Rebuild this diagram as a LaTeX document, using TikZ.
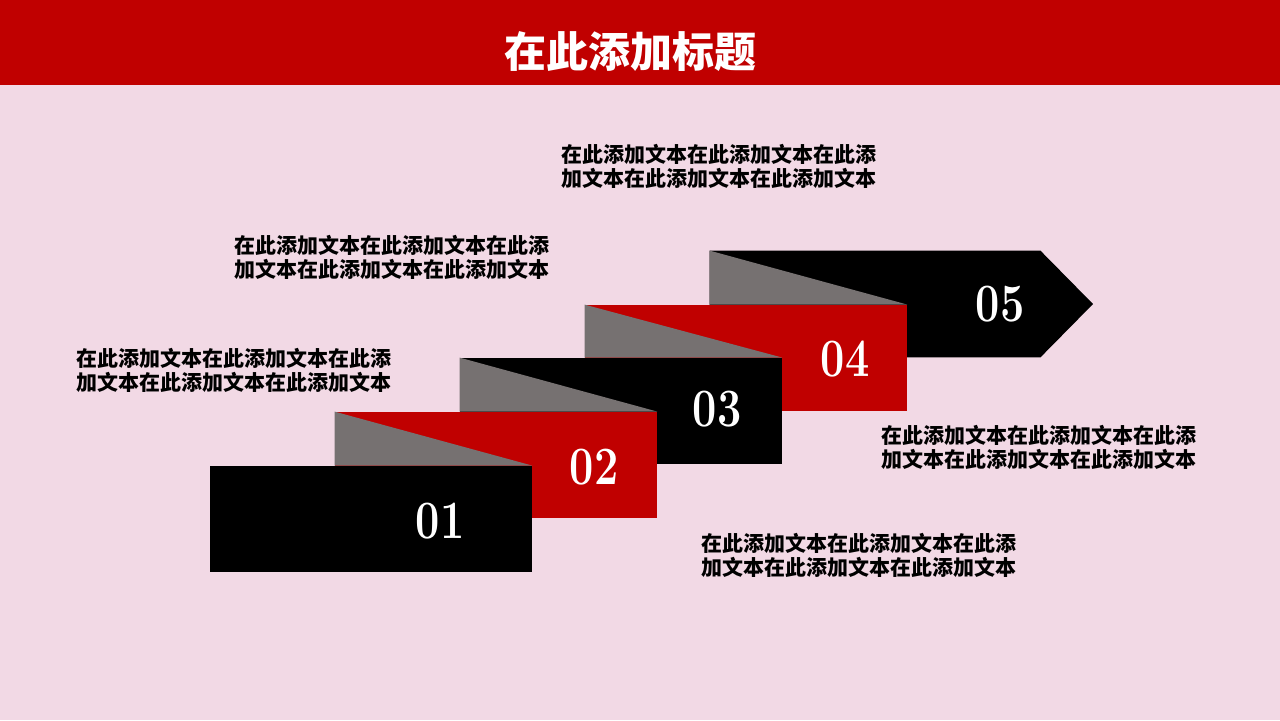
\documentclass[tikz,border=0pt]{standalone}
\usepackage{fontspec}
\usepackage{tikz}
\newfontfamily\cjk{Noto Sans CJK SC}
\definecolor{bgpink}{HTML}{F2D9E5}
\definecolor{darkred}{HTML}{C00000}
\definecolor{foldgray}{HTML}{767171}
\tikzset{
    stepbox/.style={rectangle, inner sep=0mm, draw=none, minimum width=161pt, minimum height=53pt},
    numtext/.style={text=white, inner sep=0mm, xscale=0.8, font=\bfseries\fontsize{27}{27}\selectfont},
    titletext/.style={text=white, inner sep=0mm, font=\cjk\bfseries\fontsize{21}{21}\selectfont},
    desc/.style={anchor=west, align=left, inner sep=0mm, font=\cjk\bfseries\fontsize{10.5}{12.25}\selectfont}
}

\begin{document}
\begin{tikzpicture}[x=0.5pt, y=-0.5pt]
    \fill[bgpink] (0,0) rectangle (1280,720);
    \fill[darkred] (0,0) rectangle (1280,85);
    \node (title) [titletext] at (630,52) {在此添加标题};

    % steps, from back to front
    \node (s5) [stepbox, minimum width=165pt] at (875,304) {};
    \coordinate (tip) at (1093,304);
    \fill[black] (s5.north west) -- (s5.north east) -- (tip) -- (s5.south east) -- (s5.south west) -- cycle;
    \node (s4) [stepbox, fill=darkred] at (746,358) {};
    \node (s3) [stepbox, fill=black] at (621,411) {};
    \node (s2) [stepbox, fill=darkred] at (496,465) {};
    \node (s1) [stepbox, fill=black] at (371,519) {};

    % folds
    \fill[foldgray] (s5.north west) -- (s4.north east) -- (s5.west |- s4.north) -- cycle;
    \fill[foldgray] (s4.north west) -- (s3.north east) -- (s4.west |- s3.north) -- cycle;
    \fill[foldgray] (s3.north west) -- (s2.north east) -- (s3.west |- s2.north) -- cycle;
    \fill[foldgray] (s2.north west) -- (s1.north east) -- (s2.west |- s1.north) -- cycle;

    \node (n1) [numtext] at (440,521) {01};
    \node (n2) [numtext] at (594,467) {02};
    \node (n3) [numtext] at (717,409) {03};
    \node (n4) [numtext] at (845,359) {04};
    \node (n5) [numtext] at (1000,304) {05};

    \node (t5) [desc] at (561,166.5) {在此添加文本在此添加文本在此添\\加文本在此添加文本在此添加文本};
    \node (t3) [desc] at (234,257.5) {在此添加文本在此添加文本在此添\\加文本在此添加文本在此添加文本};
    \node (t1) [desc] at (76,370.5) {在此添加文本在此添加文本在此添\\加文本在此添加文本在此添加文本};
    \node (t4) [desc] at (881,447.5) {在此添加文本在此添加文本在此添\\加文本在此添加文本在此添加文本};
    \node (t2) [desc] at (701,555.5) {在此添加文本在此添加文本在此添\\加文本在此添加文本在此添加文本};
\end{tikzpicture}
\end{document}
